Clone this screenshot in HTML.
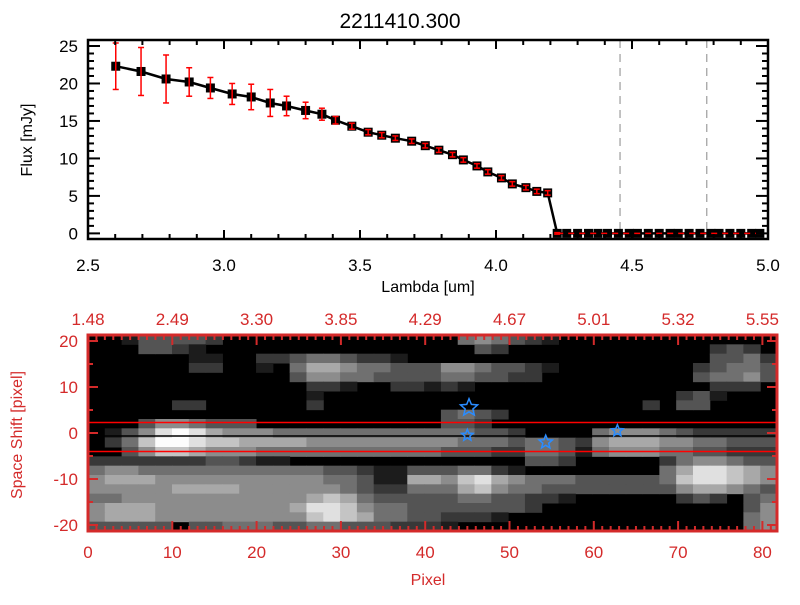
<!DOCTYPE html>
<html><head><meta charset="utf-8"><style>
body{margin:0;background:#fff;}
svg text{font-family:"Liberation Sans",sans-serif;}
</style></head><body>
<svg id="c" width="800" height="600" xmlns="http://www.w3.org/2000/svg"></svg>
<script>
const lambda=[2.602,2.695,2.787,2.872,2.95,3.03,3.10,3.17,3.23,3.30,3.36,3.41,3.47,3.53,3.58,3.63,3.69,3.74,3.79,3.84,3.88,3.93,3.97,4.02,4.06,4.11,4.15,4.19,4.225,4.26,4.30,4.34,4.375,4.41,4.45,4.49,4.52,4.56,4.60,4.64,4.67,4.71,4.75,4.79,4.82,4.86,4.90,4.94,4.97];
const flux=[22.3,21.6,20.6,20.2,19.4,18.6,18.2,17.4,17.0,16.4,15.9,15.1,14.3,13.5,13.1,12.7,12.3,11.7,11.1,10.5,9.8,9.0,8.2,7.4,6.6,6.1,5.6,5.4,0,0,0,0,0,0,0,0,0,0,0,0,0,0,0,0,0,0,0,0,0];
const fluxErr=[3.1,3.2,3.2,1.9,1.4,1.4,1.7,1.8,1.3,1.1,0.8,0.5,0.4,0.35,0.35,0.3,0.3,0.3,0.3,0.3,0.3,0.3,0.3,0.3,0.3,0.3,0.3,0.3,0.1,0,0,0,0,0,0,0,0,0,0,0,0,0,0,0,0,0,0,0,0];
const xTicks=[2.5,3.0,3.5,4.0,4.5,5.0];
const yTicks=[0,5,10,15,20,25];
const vLines=[4.456,4.775];
const pixTicks=[0,10,20,30,40,50,60,70,80];
const topLabels=["1.48","2.49","3.30","3.85","4.29","4.67","5.01","5.32","5.55"];
const shiftTicks=[-20,-10,0,10,20];
const stars=[[45.2,5.5,9],[45.0,-0.5,6],[54.3,-2.0,7],[62.8,0.5,6]];
const imgRows=[
"00133332000000000000004543210000000000000",
"00033210000000000000000320000000000002320",
"00000011002234432210000000000000000003342",
"00000022001046654433355433210000000023443",
"00000000000035544333344332200000000034453",
"00000000000002210022121000000000000002220",
"00000000000001000000000000000000000231000",
"00000220000002000000000000000000020330000",
"00000000000000000000034320000000000000000",
"00035543330000000000033200000000000000000",
"01358986555444444444444332000045554322222",
"02479987766665555555554443443256665544333",
"00357765554444444444433322443145554433222",
"22222223321100000000000000332000002455433",
"45544444444444332113334421000000004688765",
"56665555555555443116657865444333334788765",
"55555666655555543224446754433333333566543",
"44555555555556764333334433221000000232034",
"56665555555568875443333333200000000000035",
"56665555555557876443322210000000000000045",
"33333033444334433322210000000000000000045"];

const svgEl=document.getElementById('c');
const NS="http://www.w3.org/2000/svg";
function mk(tag,at,parent){const el=document.createElementNS(NS,tag);for(const k in at)el.setAttribute(k,at[k]);(parent||svgEl).appendChild(el);return el;}
function txt(s,x,y,at,parent){const el=mk('text',Object.assign({x:x,y:y},at),parent);el.textContent=s;return el;}

// ---------- top plot ----------
const P={l:88,r:768,t:40,b:239,x0:2.5,x1:5.0,y0:-0.75,y1:25.8};
const sx=v=>P.l+(v-P.x0)/(P.x1-P.x0)*(P.r-P.l);
const sy=v=>P.b-(v-P.y0)/(P.y1-P.y0)*(P.b-P.t);
const topG=mk('g',{});


const ttl=txt('2211410.300',400,28,{'text-anchor':'middle','font-size':'21',fill:'#000'});


vLines.forEach(v=>{const l=mk('line',{x1:sx(v),x2:sx(v),y1:P.t,y2:P.b,stroke:'#888','stroke-width':1,'stroke-dasharray':'8,6'},topG);

});
let d='';lambda.forEach((v,i)=>{d+=(i?'L':'M')+sx(v).toFixed(1)+','+sy(flux[i]).toFixed(1);});
const ln=mk('path',{d:d,fill:'none',stroke:'#000','stroke-width':2.5},topG);


lambda.forEach((v,i)=>{const s=mk('rect',{x:sx(v)-4.5,y:sy(flux[i])-4.5,width:9,height:9,fill:'#000'},topG);

});
lambda.forEach((v,i)=>{if(fluxErr[i]<=0)return;const x=sx(v);
const a=Math.max(P.t,sy(flux[i]+fluxErr[i])),b=Math.min(P.b,sy(flux[i]-fluxErr[i]));
const g=mk('g',{stroke:'#f00','stroke-width':1.5},topG);


mk('line',{x1:x,x2:x,y1:a,y2:b},g);mk('line',{x1:x-3,x2:x+3,y1:a,y2:a},g);mk('line',{x1:x-3,x2:x+3,y1:b,y2:b},g);});
const zl=mk('line',{x1:sx(4.225),x2:P.r,y1:sy(0),y2:sy(0),stroke:'#f00','stroke-width':1.5,'stroke-dasharray':'6,5'},topG);


const fr=mk('rect',{x:P.l,y:P.t,width:P.r-P.l,height:P.b-P.t,fill:'none',stroke:'#000','stroke-width':2.5},topG);


for(let k=0;k<=25;k++){const v=2.5+k*0.1,x=sx(v),L=(k%5===0)?9:5;
mk('line',{x1:x,x2:x,y1:P.b,y2:P.b-L,stroke:'#000','stroke-width':2},topG);mk('line',{x1:x,x2:x,y1:P.t,y2:P.t+L,stroke:'#000','stroke-width':2},topG);}
for(let k=0;k<=25;k++){const y=sy(k),L=(k%5===0)?12:6;
mk('line',{x1:P.l,x2:P.l+L,y1:y,y2:y,stroke:'#000','stroke-width':2},topG);mk('line',{x1:P.r,x2:P.r-L,y1:y,y2:y,stroke:'#000','stroke-width':2},topG);}
xTicks.forEach(v=>{const q=txt(v.toFixed(1),sx(v),271,{'text-anchor':'middle','font-size':'17',fill:'#000'},topG);

});
yTicks.forEach(v=>{const q=txt(String(v),78,sy(v)+6,{'text-anchor':'end','font-size':'17',fill:'#000'},topG);

});
let lab=txt('Lambda [um]',428,292,{'text-anchor':'middle','font-size':'16',fill:'#000'},topG);


lab=txt('Flux [mJy]',0,0,{'text-anchor':'middle','font-size':'16',fill:'#000',transform:'translate(32,140) rotate(-90)'},topG);



// ---------- bottom image ----------
const B={l:88,r:777,t:335,b:531};
const RED='#d42a2a';
const px=v=>B.l+v*8.43;
const py=v=>341+(20-v)*4.6;
const imgG=mk('g',{});


mk('rect',{x:B.l,y:B.t,width:B.r-B.l,height:B.b-B.t,fill:'#000'},imgG);
const cw=(B.r-B.l)/41,ch=(B.b-B.t)/imgRows.length;
imgRows.forEach((row,r)=>{for(let c=0;c<row.length;c++){const v=+row[c];if(!v)continue;const g=Math.round(v*28);
const cell=mk('rect',{x:(B.l+c*cw).toFixed(2),y:(B.t+r*ch).toFixed(2),width:(cw+0.5).toFixed(2),height:(ch+0.5).toFixed(2),fill:`rgb(${g},${g},${g})`},imgG);

}});
lab=mk('line',{x1:B.l,x2:B.r,y1:436,y2:436,stroke:'#000','stroke-width':1.5},imgG);


[422.5,451.5].forEach(y=>{const l=mk('line',{x1:B.l,x2:B.r,y1:y,y2:y,stroke:'#f00','stroke-width':1.5},imgG);

});
stars.forEach(s=>{const cx=px(s[0]),cy=py(s[1]),R=s[2];let p='';
for(let k=0;k<10;k++){const a=-Math.PI/2+k*Math.PI/5,rr=k%2?R*0.45:R;p+=(k?'L':'M')+(cx+rr*Math.cos(a)).toFixed(1)+','+(cy+rr*Math.sin(a)).toFixed(1);}
const st=mk('path',{d:p+'Z',fill:'none',stroke:'#2a8cff','stroke-width':1.5},imgG);

});
lab=mk('rect',{x:B.l,y:B.t,width:B.r-B.l,height:B.b-B.t,fill:'none',stroke:RED,'stroke-width':3},imgG);


for(let k=0;k<=81;k++){const x=px(k),L=(k%10===0)?10:5;
mk('line',{x1:x,x2:x,y1:B.b,y2:B.b-L,stroke:RED,'stroke-width':2},imgG);mk('line',{x1:x,x2:x,y1:B.t,y2:B.t+L,stroke:RED,'stroke-width':2},imgG);}
for(let k=-20;k<=20;k+=5){const y=py(k),L=(k%10===0)?10:5;
mk('line',{x1:B.l,x2:B.l+L,y1:y,y2:y,stroke:RED,'stroke-width':2},imgG);mk('line',{x1:B.r,x2:B.r-L,y1:y,y2:y,stroke:RED,'stroke-width':2},imgG);}
pixTicks.forEach((v,i)=>{let q=txt(String(v),px(v),558,{'text-anchor':'middle','font-size':'17',fill:RED},imgG);


q=txt(topLabels[i],px(v),325,{'text-anchor':'middle','font-size':'17',fill:RED},imgG);

});
shiftTicks.forEach(v=>{const q=txt(String(v),78,py(v)+6,{'text-anchor':'end','font-size':'17',fill:RED},imgG);

});
lab=txt('Pixel',428,585,{'text-anchor':'middle','font-size':'16',fill:RED},imgG);


lab=txt('Space Shift [pixel]',0,0,{'text-anchor':'middle','font-size':'16',fill:RED,transform:'translate(22,435) rotate(-90)'},imgG);


</script>
</body></html>
